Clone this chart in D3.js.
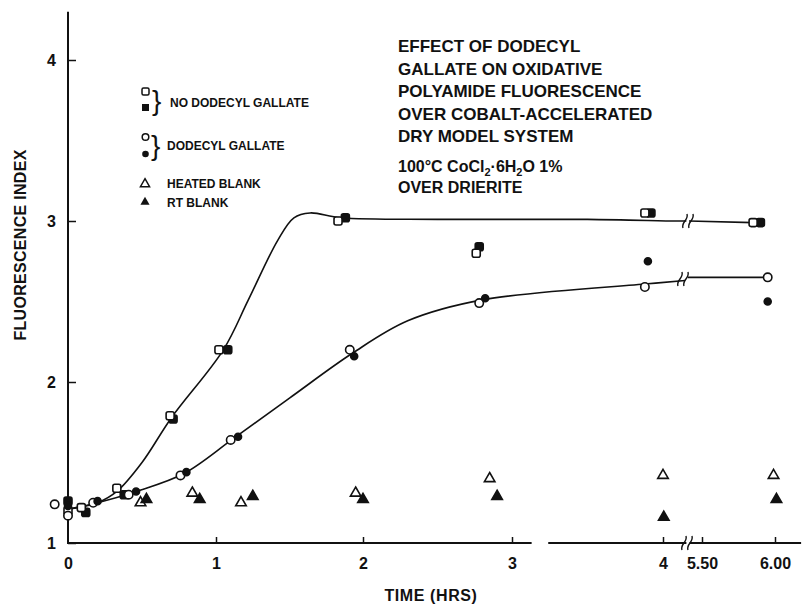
<!DOCTYPE html>
<html>
<head>
<meta charset="utf-8">
<script src="https://cdn.jsdelivr.net/npm/d3@7"></script>
<style>
body { margin: 0; background: #fff; }
text { font-family: "Liberation Sans", Arial, sans-serif; font-weight: bold; fill: #111; }
</style>
</head>
<body>
<div class="content"></div>
<script>
// time (hrs) and fluorescence index
var noDgOpen = [[0, 1.2], [0.09, 1.22], [0.33, 1.34], [0.69, 1.79], [1.02, 2.2], [1.83, 3.0], [2.76, 2.8], [3.88, 3.05], [5.85, 2.99]];
var noDgFilled = [[0, 1.26], [0.12, 1.19], [0.38, 1.3], [0.71, 1.77], [1.08, 2.2], [1.88, 3.02], [2.78, 2.84], [3.92, 3.05], [5.9, 2.99]];
var dgOpen = [[0, 1.17], [0.17, 1.25], [0.41, 1.3], [0.76, 1.42], [1.1, 1.64], [1.91, 2.2], [2.78, 2.49], [3.88, 2.59], [5.95, 2.65]];
var dgFilled = [[0, 1.23], [0.2, 1.26], [0.46, 1.32], [0.8, 1.44], [1.15, 1.66], [1.94, 2.16], [2.82, 2.52], [3.9, 2.75], [5.95, 2.5]];
var heatedBlank = [[0.49, 1.25], [0.84, 1.31], [1.17, 1.25], [1.95, 1.31], [2.85, 1.4], [4.0, 1.42], [5.99, 1.42]];
var rtBlank = [[0.53, 1.27], [0.89, 1.27], [1.25, 1.29], [2.0, 1.27], [2.9, 1.29], [4.03, 1.16], [6.01, 1.27]];
var strayPoint = [[-0.09, 1.24]];

// hand drawn curves (before and after the axis break)
var noDgCurve = [[0, 1.21], [0.2, 1.25], [0.33, 1.32], [0.5, 1.5], [0.7, 1.78], [1.05, 2.2], [1.22, 2.51], [1.42, 2.88], [1.53, 3.02], [1.64, 3.05], [1.85, 3.02], [2.5, 3.01], [3.5, 3.01], [4.5, 3.0], [4.9, 3.0]];
var noDgCurveEnd = [[5.0, 3.0], [5.85, 2.99]];
var dgCurve = [[0, 1.21], [0.2, 1.25], [0.46, 1.32], [0.78, 1.43], [1.12, 1.65], [1.5, 1.9], [1.93, 2.18], [2.3, 2.38], [2.8, 2.51], [3.9, 2.61], [4.85, 2.63]];
var dgCurveEnd = [[4.95, 2.65], [5.95, 2.65]];

var xTicks = [0, 1, 2, 3, 4, 5.5, 6];
var xTickLabels = ['0', '1', '2', '3', '4', '5.50', '6.00'];
var yTicks = [1, 2, 3, 4];
var axisSegments = [[0, 3.13], [3.24, 4.9], [5.02, 6.18]];
var breakAt = 4.96;

var titleLines = ['EFFECT OF DODECYL', 'GALLATE ON OXIDATIVE', 'POLYAMIDE FLUORESCENCE', 'OVER COBALT-ACCELERATED', 'DRY MODEL SYSTEM'];
var legendLabels = ['NO DODECYL GALLATE', 'DODECYL GALLATE', 'HEATED BLANK', 'RT BLANK'];

var chart = {
    width: 803,
    height: 606,
    stroke: '#111',
    lineWidth: 1.6
};

window.onload = function() {
    chart.svg = d3.select('.content').append('svg')
        .attr('width', chart.width)
        .attr('height', chart.height);
    var svg = chart.svg;

    chart.x = d3.scaleLinear()
        .domain([0, 1, 2, 3, 4, 5.5, 6, 6.2])
        .range([68, 216, 363, 512, 663, 702, 775, 804]);
    chart.y = d3.scaleLinear().domain([1, 4]).range([543, 60]);
    var x = chart.x, y = chart.y;

    // y axis
    var yAxis = svg.append('g')
        .attr('transform', 'translate(' + x(0) + ',0)')
        .call(d3.axisLeft(y).tickValues(yTicks).tickFormat(d3.format('d')).tickSize(-8).tickPadding(12));
    yAxis.select('.domain').remove();
    yAxis.selectAll('line').attr('stroke', chart.stroke).attr('stroke-width', 1.5);
    yAxis.selectAll('text').style('font-size', '16px').attr('fill', '#111');
    svg.append('line')
        .attr('x1', x(0)).attr('x2', x(0))
        .attr('y1', y(1) + 1).attr('y2', y(4.3))
        .attr('stroke', chart.stroke).attr('stroke-width', 2);

    // x axis
    var xAxis = svg.append('g')
        .attr('transform', 'translate(0,' + y(1) + ')')
        .call(d3.axisBottom(x).tickValues(xTicks).tickFormat(function(d, i) { return xTickLabels[i]; }).tickSize(-6).tickPadding(15));
    xAxis.select('.domain').remove();
    xAxis.selectAll('line').attr('stroke', chart.stroke).attr('stroke-width', 1.5);
    xAxis.selectAll('.tick').filter(function(d) { return d === 0; }).select('line').remove();
    xAxis.selectAll('text').style('font-size', '16px').attr('fill', '#111');
    svg.selectAll('.xseg').data(axisSegments).enter().append('line')
        .attr('x1', function(d) { return x(d[0]); })
        .attr('x2', function(d) { return x(d[1]); })
        .attr('y1', y(1)).attr('y2', y(1))
        .attr('stroke', chart.stroke).attr('stroke-width', 2);

    // axis break marks
    function breakMark(cx, cy) {
        [-3, 3].forEach(function(off) {
            svg.append('path')
                .attr('d', 'M' + (cx + off - 2) + ',' + (cy + 7) + ' C' + (cx + off - 4) + ',' + (cy + 1) + ' ' + (cx + off + 4) + ',' + (cy - 1) + ' ' + (cx + off + 2) + ',' + (cy - 7))
                .attr('fill', 'none').attr('stroke', chart.stroke).attr('stroke-width', 1.4);
        });
    }
    breakMark(x(breakAt) - 1, y(1));
    breakMark(x(breakAt), y(3.0));
    breakMark(x(breakAt) - 5, y(2.64));

    // curves
    var line = d3.line()
        .x(function(d) { return x(d[0]); })
        .y(function(d) { return y(d[1]); })
        .curve(d3.curveCatmullRom.alpha(0.5));
    [noDgCurve, noDgCurveEnd, dgCurve, dgCurveEnd].forEach(function(c) {
        svg.append('path')
            .attr('d', line(c))
            .attr('fill', 'none')
            .attr('stroke', chart.stroke)
            .attr('stroke-width', chart.lineWidth);
    });

    // markers
    var tri = d3.symbol().type(d3.symbolTriangle).size(48);
    var triSmall = d3.symbol().type(d3.symbolTriangle).size(36);
    function squares(data, filled) {
        svg.append('g').selectAll('rect').data(data).enter().append('rect')
            .attr('x', function(d) { return x(d[0]) - 4; })
            .attr('y', function(d) { return y(d[1]) - 4; })
            .attr('width', 8).attr('height', 8).attr('rx', 2)
            .attr('fill', filled ? chart.stroke : '#fff')
            .attr('stroke', chart.stroke).attr('stroke-width', 1.6);
    }
    function circles(data, filled) {
        svg.append('g').selectAll('circle').data(data).enter().append('circle')
            .attr('cx', function(d) { return x(d[0]); })
            .attr('cy', function(d) { return y(d[1]); })
            .attr('r', filled ? 3.5 : 4.2)
            .attr('fill', filled ? chart.stroke : '#fff')
            .attr('stroke', chart.stroke).attr('stroke-width', 1.6);
    }
    function triangles(data, filled) {
        svg.append('g').selectAll('path').data(data).enter().append('path')
            .attr('d', tri)
            .attr('transform', function(d) { return 'translate(' + x(d[0]) + ',' + y(d[1]) + ')'; })
            .attr('fill', filled ? chart.stroke : '#fff')
            .attr('stroke', chart.stroke).attr('stroke-width', 1.6);
    }
    squares(noDgFilled, true);
    squares(noDgOpen, false);
    circles(dgOpen, false);
    circles(dgFilled, true);
    triangles(heatedBlank, false);
    triangles(rtBlank, true);
    circles(strayPoint, false);

    // legend
    var lg = svg.append('g');
    lg.append('rect').attr('x', 142).attr('y', 88).attr('width', 7).attr('height', 7).attr('rx', 1.5)
        .attr('fill', '#fff').attr('stroke', chart.stroke).attr('stroke-width', 1.5);
    lg.append('rect').attr('x', 142).attr('y', 104).attr('width', 7).attr('height', 7)
        .attr('fill', chart.stroke);
    lg.append('circle').attr('cx', 145.5).attr('cy', 137).attr('r', 3.3)
        .attr('fill', '#fff').attr('stroke', chart.stroke).attr('stroke-width', 1.5);
    lg.append('circle').attr('cx', 145.5).attr('cy', 154).attr('r', 3.3)
        .attr('fill', chart.stroke);
    lg.append('path').attr('d', triSmall).attr('transform', 'translate(145,184)')
        .attr('fill', '#fff').attr('stroke', chart.stroke).attr('stroke-width', 1.5);
    lg.append('path').attr('d', triSmall).attr('transform', 'translate(145,202)')
        .attr('fill', chart.stroke);
    lg.append('text').attr('x', 152).attr('y', 110).style('font-size', '28px').style('font-weight', 'normal').text('}');
    lg.append('text').attr('x', 151).attr('y', 155).style('font-size', '28px').style('font-weight', 'normal').text('}');
    var legendPos = [[170, 107], [167, 150], [167, 188], [167, 207]];
    lg.selectAll('text.lab').data(legendLabels).enter().append('text')
        .attr('class', 'lab')
        .attr('x', function(d, i) { return legendPos[i][0]; })
        .attr('y', function(d, i) { return legendPos[i][1]; })
        .style('font-size', '12px')
        .text(function(d) { return d; });

    // title block
    var tg = svg.append('g');
    tg.selectAll('text.title').data(titleLines).enter().append('text')
        .attr('class', 'title')
        .attr('x', 398)
        .attr('y', function(d, i) { return 52 + i * 22.6; })
        .style('font-size', '17px')
        .text(function(d) { return d; });
    var cond = tg.append('text').attr('x', 398).attr('y', 172).style('font-size', '16px');
    cond.append('tspan').text('100°C CoCl');
    cond.append('tspan').attr('dy', 4).style('font-size', '11px').text('2');
    cond.append('tspan').attr('dy', -4).text('·6H');
    cond.append('tspan').attr('dy', 4).style('font-size', '11px').text('2');
    cond.append('tspan').attr('dy', -4).text('O 1%');
    tg.append('text').attr('x', 398).attr('y', 193).style('font-size', '16px').text('OVER DRIERITE');

    // axis titles
    svg.append('text')
        .attr('transform', 'translate(26,245) rotate(-90)')
        .attr('text-anchor', 'middle')
        .style('font-size', '16px')
        .style('letter-spacing', '0.3px')
        .text('FLUORESCENCE INDEX');
    svg.append('text')
        .attr('x', 431).attr('y', 601)
        .attr('text-anchor', 'middle')
        .style('font-size', '16px')
        .style('letter-spacing', '0.6px')
        .text('TIME (HRS)');
};
</script>
</body>
</html>
